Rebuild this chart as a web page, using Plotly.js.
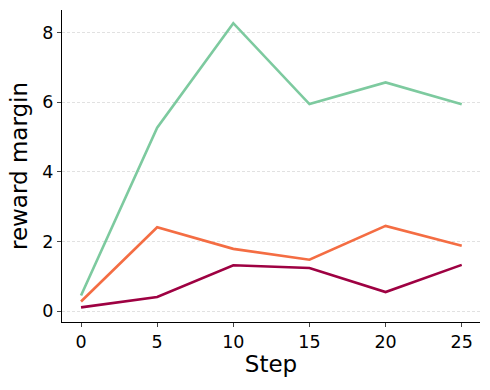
<!DOCTYPE html>
<html>
<head>
<meta charset="utf-8">
<script src="https://cdn.plot.ly/plotly-3.0.1.min.js"></script>
<style>
  html, body { margin: 0; padding: 0; background: #fff; }
  #chart { width: 490px; height: 390px; }
</style>
</head>
<body>
<div id="chart"></div>
<script>
const steps = [0, 5, 10, 15, 20, 25];
const greenSeries = [0.45, 5.27, 8.27, 5.95, 6.57, 5.94];
const orangeSeries = [0.28, 2.41, 1.79, 1.48, 2.45, 1.88];
const redSeries = [0.11, 0.41, 1.32, 1.24, 0.55, 1.33];

const colours = ['#7dca9f', '#f46d43', '#9e0142'];
const seriesList = [greenSeries, orangeSeries, redSeries];

const traces = seriesList.map((ys, i) => ({
    x: steps,
    y: ys,
    type: 'scatter',
    mode: 'lines',
    line: {color: colours[i], width: 2.6},
    showlegend: false
}));

const layout = {
    width: 490,
    height: 390,
    paper_bgcolor: '#fff',
    plot_bgcolor: '#fff',
    font: {family: 'DejaVu Sans', size: 17.5, color: '#000'},
    margin: {l: 62, r: 10, t: 10, b: 68},
    xaxis: {
        title: {text: 'Step', font: {size: 23}, standoff: 4},
        range: [-1.25, 26.2],
        tickvals: steps,
        ticks: 'outside',
        ticklen: 4,
        tickwidth: 1,
        showgrid: false,
        zeroline: false,
        showline: true,
        linecolor: '#000',
        linewidth: 1
    },
    yaxis: {
        title: {text: 'reward margin', font: {size: 23}, standoff: 8},
        range: [-0.31, 8.65],
        tickvals: [0, 2, 4, 6, 8],
        ticks: 'outside',
        ticklen: 4,
        tickwidth: 1,
        showgrid: true,
        gridcolor: '#dadada',
        griddash: '3px,2px',
        gridwidth: 0.8,
        zeroline: false,
        showline: true,
        linecolor: '#000',
        linewidth: 1
    }
};

Plotly.newPlot('chart', traces, layout, {displayModeBar: false, staticPlot: true});
</script>
</body>
</html>
